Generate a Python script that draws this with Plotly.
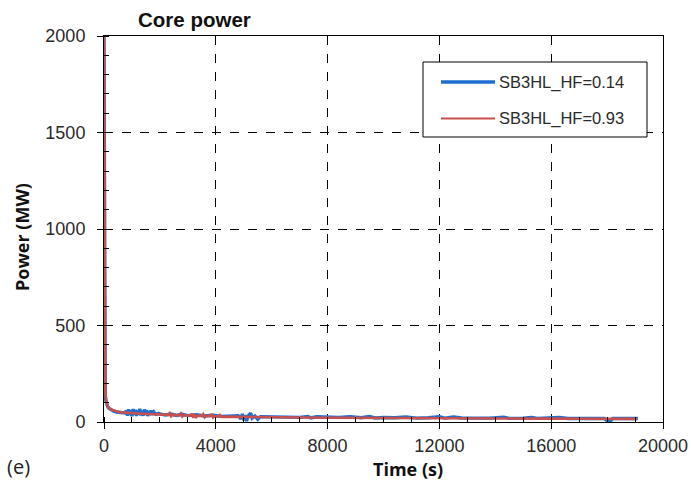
import plotly.graph_objects as go

# Core power transient, two hot-leg break cases
t_hf014 = [0, 5, 10, 15, 20, 30, 45, 60, 90, 130, 180, 250, 350, 450, 600, 750,
           800, 840, 880, 920, 960, 1000, 1040, 1080, 1120, 1160, 1200, 1240, 1280,
           1320, 1360, 1400, 1440, 1480, 1520, 1560, 1600, 1640, 1680, 1720, 1780,
           1850, 1950, 2000, 2200, 2400, 2600, 2800, 3000, 3300, 3600, 3900, 4200,
           4500, 4800, 4900, 4950, 5000, 5050, 5100, 5150, 5250, 5300, 5400, 5500,
           5600, 5800, 6200, 6600, 7000, 7300, 7400, 7600, 8000, 8400, 8800, 9200,
           9500, 9700, 10000, 10400, 10800, 11200, 11600, 12000, 12200, 12500, 12800,
           13200, 13800, 14300, 14500, 15000, 15300, 15500, 16000, 16300, 16600,
           17000, 17500, 17900, 18000, 18100, 18200, 18600, 19100]
p_hf014 = [2000, 1500, 1000, 600, 350, 200, 140, 115, 95, 80, 70, 62, 56, 52, 49, 47,
           58, 33, 66, 37, 61, 30, 67, 40, 63, 31, 60, 38, 68,
           34, 58, 32, 65, 39, 62, 31, 57, 36, 60, 38, 52,
           40, 45, 42, 36, 41, 34, 40, 33, 38, 31, 35, 29,
           30, 33, 16, 42, 10, 36, 5, 30, 46, 20, 31, 14,
           28, 27, 26, 25, 24, 29, 21, 27, 25, 24, 28, 22,
           28, 21, 23, 22, 26, 20, 22, 27, 20, 26, 21,
           21, 20, 25, 19, 20, 24, 19, 19, 23, 18,
           19, 18, 18, 7, 3, 18, 18, 18]

t_hf093 = [0, 4, 8, 12, 16, 22, 30, 40, 55, 75, 100, 140, 200, 280, 380, 500, 650,
           850, 1100, 1400, 1700, 2000, 2300, 2350, 2400, 2450, 2700, 2750, 2800,
           2850, 3100, 3150, 3200, 3250, 3300, 3350, 3500, 3550, 3600, 3650, 3800,
           3850, 3900, 3950, 4100, 4150, 4200, 4400, 5000, 6000, 7000, 8000, 9000,
           10000, 11000, 12000, 13000, 14000, 15000, 16000, 17000, 18000, 19050]
p_hf093 = [2000, 1700, 1300, 950, 700, 450, 280, 190, 140, 110, 92, 80, 70, 63, 57, 53, 50,
           47, 45, 43, 41, 39, 37, 46, 30, 37, 35, 44, 28,
           35, 33, 43, 22, 40, 26, 33, 32, 41, 25, 32, 31,
           42, 24, 30, 29, 36, 26, 28, 26, 24, 23, 22, 21,
           20.5, 20, 19.5, 19, 18.5, 18, 17.5, 17, 16.5, 16]

x_ticks = [0, 4000, 8000, 12000, 16000, 20000]
y_ticks = [0, 500, 1000, 1500, 2000]

series = [
    ("SB3HL_HF=0.14", t_hf014, p_hf014, "#1f6fd0", 3.4, 3.6),
    ("SB3HL_HF=0.93", t_hf093, p_hf093, "#c9504c", 2.6, 1.8),
]

fig = go.Figure()
for name, t, p, color, width, _ in series:
    fig.add_trace(go.Scatter(x=t, y=p, mode="lines", name=name,
                             line=dict(color=color, width=width), showlegend=False))

SANS = "Liberation Sans, Arial, sans-serif"
tick_font = dict(family=SANS, size=18, color="#2a2a2a")
axis_common = dict(
    showline=True, linecolor="black", linewidth=1, mirror=True,
    showgrid=True, gridcolor="black", griddash="dash", gridwidth=1,
    zeroline=False, ticks="outside", ticklen=6, tickcolor="black",
    tickfont=tick_font, automargin=False,
)

fig.update_xaxes(range=[0, 20000], tickvals=x_ticks, ticktext=[str(v) for v in x_ticks],
                 ticklabelstandoff=1,
                 minor=dict(dtick=1000, ticks="inside", ticklen=5, tickcolor="black",
                            showgrid=False),
                 **axis_common)
fig.update_yaxes(range=[0, 2000], tickvals=y_ticks, ticktext=[str(v) for v in y_ticks],
                 ticklabelstandoff=8,
                 minor=dict(dtick=100, ticks="inside", ticklen=5, tickcolor="black",
                            showgrid=False),
                 **axis_common)

# pixel -> paper helpers for the 104..663 x 36..422 plot box
def px(x):
    return (x - 104) / 559


def py(y):
    return (422 - y) / 386


# Legend box drawn as shapes + text
shapes = [dict(type="rect", xref="paper", yref="paper", x0=px(423), x1=px(647),
               y0=py(137), y1=py(62), line=dict(color="black", width=1),
               fillcolor="white", layer="above")]
annotations = []
for i, (name, _, _, color, _, lw) in enumerate(series):
    yy = 82 + i * 36.5
    shapes.append(dict(type="line", xref="paper", yref="paper", x0=px(441), x1=px(495),
                       y0=py(yy), y1=py(yy), line=dict(color=color, width=lw),
                       layer="above"))
    annotations.append(dict(text=name, xref="paper", yref="paper", x=px(497), y=py(yy),
                            xanchor="left", yanchor="middle", showarrow=False,
                            font=dict(family=SANS, size=16.5, color="#2a2a2a")))

annotations += [
    dict(text="<b>Core power</b>", xref="paper", yref="paper", x=px(136),
         y=py(19), xanchor="left", yanchor="middle", showarrow=False,
         font=dict(family=SANS, size=20.5, color="#111")),
    dict(text="<b>Power (MW)</b>", xref="paper", yref="paper", x=px(22),
         y=py(237), xanchor="center", yanchor="middle", textangle=-90, showarrow=False,
         font=dict(family="Open Sans, sans-serif", size=18, color="#111")),
    dict(text="<b>Time (s)</b>", xref="paper", yref="paper", x=px(408),
         y=py(469), xanchor="center", yanchor="middle", showarrow=False,
         font=dict(family="Open Sans, sans-serif", size=18, color="#111")),
    dict(text="(e)", xref="paper", yref="paper", x=px(5),
         y=py(466), xanchor="left", yanchor="middle", showarrow=False,
         font=dict(family="Open Sans, sans-serif", size=20, color="#222")),
]

fig.update_layout(
    width=691, height=482,
    margin=dict(l=104, r=28, t=36, b=60),
    paper_bgcolor="white", plot_bgcolor="white",
    showlegend=False,
    shapes=shapes,
    annotations=annotations,
)

fig.write_html("out.html")
